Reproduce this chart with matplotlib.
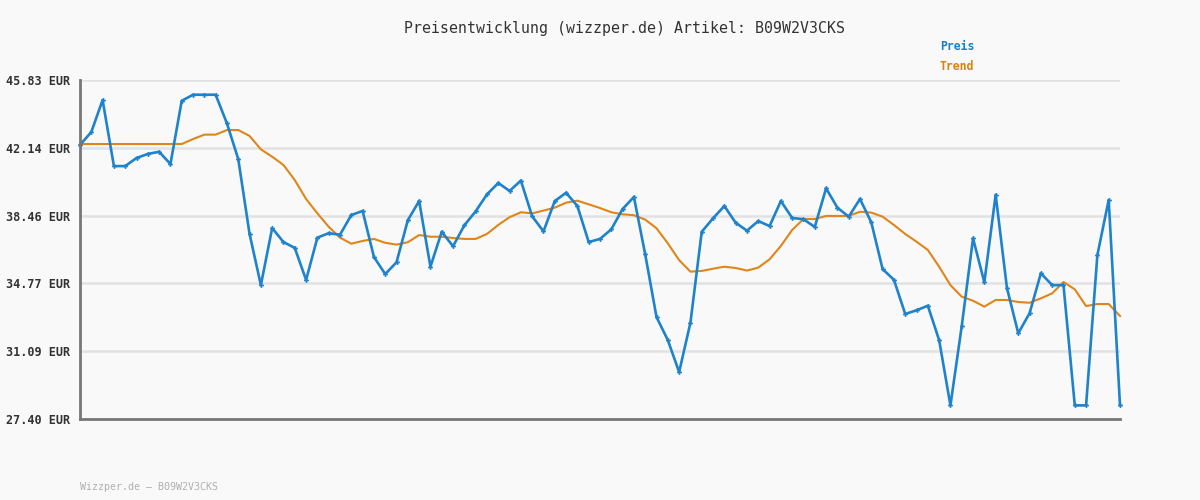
import matplotlib
matplotlib.use("Agg")
import matplotlib.pyplot as plt

title = "Preisentwicklung (wizzper.de) Artikel: B09W2V3CKS"
footer = "Wizzper.de – B09W2V3CKS"
tick_values = [27.40, 31.09, 34.77, 38.46, 42.14, 45.83]
tick_labels = ["27.40 EUR", "31.09 EUR", "34.77 EUR", "38.46 EUR", "42.14 EUR", "45.83 EUR"]

preis = [42.30, 43.00, 44.74, 41.15, 41.15, 41.59, 41.81, 41.93, 41.26, 44.70,
         45.03, 45.03, 45.03, 43.47, 41.53, 37.46, 34.68, 37.78, 37.02, 36.70,
         34.96, 37.26, 37.50, 37.42, 38.49, 38.71, 36.21, 35.28, 35.92, 38.21,
         39.25, 35.68, 37.58, 36.79, 37.93, 38.69, 39.61, 40.23, 39.80, 40.36,
         38.42, 37.60, 39.25, 39.70, 38.98, 37.02, 37.19, 37.71, 38.82, 39.47,
         36.35, 32.94, 31.69, 29.95, 32.64, 37.58, 38.31, 38.98, 38.07, 37.64,
         38.16, 37.89, 39.25, 38.33, 38.26, 37.84, 39.94, 38.89, 38.40, 39.36,
         38.09, 35.55, 34.97, 33.11, 33.31, 33.56, 31.69, 28.14, 32.45, 37.22,
         34.83, 39.59, 34.52, 32.06, 33.15, 35.32, 34.68, 34.68, 28.14, 28.14,
         36.32, 39.31, 28.14]

trend = [42.35, 42.35, 42.35, 42.35, 42.35, 42.35, 42.35, 42.35, 42.35, 42.35,
         42.62, 42.86, 42.86, 43.11, 43.11, 42.79, 42.06, 41.66, 41.21, 40.39,
         39.36, 38.58, 37.85, 37.26, 36.93, 37.08, 37.19, 36.98, 36.88, 37.01,
         37.40, 37.31, 37.31, 37.24, 37.19, 37.19, 37.46, 37.95, 38.37, 38.64,
         38.58, 38.73, 38.89, 39.16, 39.27, 39.07, 38.87, 38.64, 38.53, 38.48,
         38.24, 37.77, 36.95, 36.04, 35.41, 35.45, 35.57, 35.68, 35.61, 35.47,
         35.63, 36.08, 36.81, 37.68, 38.27, 38.27, 38.44, 38.44, 38.44, 38.67,
         38.62, 38.40, 37.95, 37.46, 37.04, 36.59, 35.68, 34.68, 34.05, 33.83,
         33.51, 33.87, 33.87, 33.76, 33.72, 33.96, 34.23, 34.85, 34.45, 33.54,
         33.65, 33.65, 33.00]

x = list(range(len(preis)))

bg = "#f9f9f9"
blue = "#1f82cc"
orange = "#e0851a"

fig = plt.figure(figsize=(12, 5), dpi=100, facecolor=bg)
ax = fig.add_axes([80/1200, 81/500, 1040/1200, 339/500], facecolor=bg)

ax.plot(x, trend, color=orange, lw=1.5, zorder=3, clip_on=False)
ax.plot(x, preis, color=blue, lw=1.9, marker="P", ms=3.5, mew=0, zorder=4, clip_on=False)

ax.set_xlim(0, len(preis) - 1)
ax.set_ylim(tick_values[0], tick_values[-1])
ax.set_yticks(tick_values)
ax.set_yticklabels(tick_labels, family="DejaVu Sans Mono", fontsize=8.5, fontweight="bold", color="#333333")
ax.set_xticks([])
ax.tick_params(axis="y", length=0, pad=7)
ax.grid(axis="y", color="#e2e2e2", lw=1.8, zorder=0)
for s in ["top", "right"]:
    ax.spines[s].set_visible(False)
for s in ["left", "bottom"]:
    ax.spines[s].set_color("#777777")
    ax.spines[s].set_linewidth(2)
ax.spines["left"].set_zorder(5)

fig.text(624/1200, 1 - 28/500, title, ha="center", va="center", family="DejaVu Sans Mono",
         fontsize=10.7, color="#333333")
fig.text(940/1200, 1 - 47/500, "Preis", ha="left", va="center", family="DejaVu Sans Mono",
         fontsize=8.3, fontweight="bold", color="#1a7fc4")
fig.text(940/1200, 1 - 67/500, "Trend", ha="left", va="center", family="DejaVu Sans Mono",
         fontsize=8.3, fontweight="bold", color="#d98012")
fig.text(80/1200, 1 - 487/500, footer, ha="left", va="center", family="DejaVu Sans Mono",
         fontsize=7.2, color="#b0b0b0")

fig.savefig("out.png", dpi=100, facecolor=bg)
